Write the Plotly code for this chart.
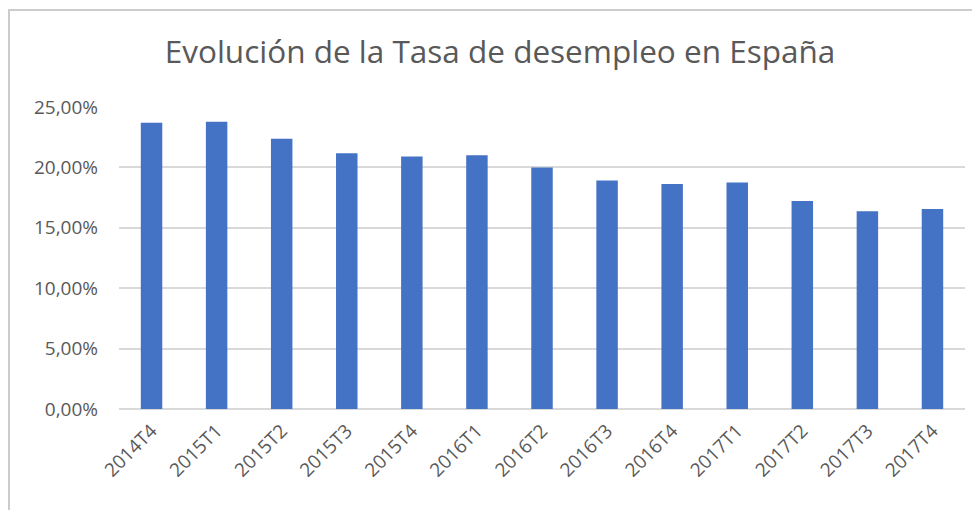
import plotly.graph_objects as go

categories = ["2014T4", "2015T1", "2015T2", "2015T3", "2015T4", "2016T1", "2016T2",
              "2016T3", "2016T4", "2017T1", "2017T2", "2017T3", "2017T4"]
tasa_paro = [23.70, 23.78, 22.37, 21.18, 20.90, 21.00, 20.00,
             18.91, 18.63, 18.75, 17.22, 16.38, 16.55]
y_ticks = [0, 5, 10, 15, 20, 25]
y_tick_labels = ["0,00%", "5,00%", "10,00%", "15,00%", "20,00%", "25,00%"]

# page has an 8px body margin; the figure starts at page (8, 8)
OFF = 8
W, H = 980 - OFF, 510 - OFF
ml, mr, mt, mb = 119 - OFF, 15, 107 - OFF, 101

fig = go.Figure(go.Bar(
    x=categories, y=tasa_paro,
    marker=dict(color="#4472C4", line=dict(width=0)),
    hoverinfo="x+y",
))

pw = W - ml - mr
ph = H - mt - mb
def px_to_paper_x(px):
    return (px - OFF - ml) / pw
def px_to_paper_y(py):
    return (H - mb - (py - OFF)) / ph

border_color = "#CCCCCC"
fig.add_shape(type="line", xref="paper", yref="paper",
              x0=px_to_paper_x(8), x1=px_to_paper_x(990),
              y0=px_to_paper_y(10), y1=px_to_paper_y(10),
              line=dict(color=border_color, width=2))
fig.add_shape(type="line", xref="paper", yref="paper",
              x0=px_to_paper_x(9), x1=px_to_paper_x(9),
              y0=px_to_paper_y(9), y1=px_to_paper_y(530),
              line=dict(color=border_color, width=2))

fig.update_layout(
    width=W, height=H,
    margin=dict(l=ml, r=mr, t=mt, b=mb),
    paper_bgcolor="white", plot_bgcolor="white",
    bargap=0.67,
    showlegend=False,
    title=dict(text="Evolución de la Tasa de desempleo en España",
               x=(500 - OFF) / W, xanchor="center", y=1 - (52 - OFF) / H, yanchor="middle",
               font=dict(family="Open Sans", size=31.5, color="#595959")),
    font=dict(family="Open Sans", color="#595959"),
    xaxis=dict(tickangle=-45, showgrid=False, showline=False, ticks="",
               ticklabelstandoff=6,
               tickfont=dict(size=19, color="#595959")),
    yaxis=dict(range=[0, 25], tickvals=y_ticks, ticktext=y_tick_labels,
               showgrid=True, gridcolor="#D9D9D9", gridwidth=1.5,
               zeroline=True, zerolinecolor="#D9D9D9", zerolinewidth=1.5,
               showline=False, ticks="", ticklabelstandoff=20,
               tickfont=dict(size=19, color="#595959")),
)

fig.write_html("out.html")
